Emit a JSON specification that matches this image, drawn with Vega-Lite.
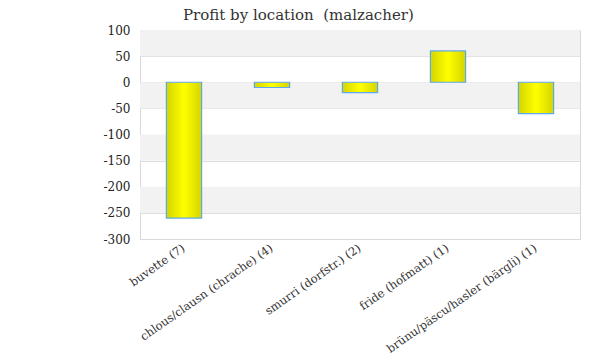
{
  "$schema": "https://vega.github.io/schema/vega-lite/v6.json",
  "autosize": {"type": "none"},
  "padding": {"left": 140, "top": 30, "right": 20, "bottom": 121},
  "width": 440,
  "height": 209,
  "title": {"text": "Profit by location\u00a0 (malzacher)", "font": "DejaVu Serif", "fontSize": 15, "fontWeight": "normal", "color": "#333", "anchor": "start", "frame": "group", "dx": 43, "offset": 1},
  "config": {"view": {"stroke": "#d9d9d9"}},
  "datasets": {
    "bands": [{"lo": 50, "hi": 100}, {"lo": -50, "hi": 0}, {"lo": -150, "hi": -100}, {"lo": -250, "hi": -200}],
    "profit": [
      {"location": "buvette (7)", "profit": -260},
      {"location": "chlous/clausn (chrache) (4)", "profit": -10},
      {"location": "smurri (dorfstr.) (2)", "profit": -20},
      {"location": "fride (hofmatt) (1)", "profit": 60},
      {"location": "brünu/päscu/hasler (bärgli) (1)", "profit": -60}
    ]
  },
  "layer": [
    {
      "data": {"name": "bands"},
      "mark": {"type": "rect", "fill": "#f2f2f2"},
      "encoding": {
        "y": {"field": "lo", "type": "quantitative", "title": null, "scale": {"domain": [-300, 100], "nice": false},
          "axis": {"values": [100, 50, 0, -50, -100, -150, -200, -250, -300], "labelOverlap": false, "labelExpr": "replace(datum.label, '−', '-')", "labelFont": "DejaVu Serif", "labelFontSize": 12, "labelColor": "#222", "ticks": false, "labelPadding": 10, "gridColor": "#dedede", "domainColor": "#d9d9d9"}},
        "y2": {"field": "hi"}
      }
    },
    {
      "data": {"name": "profit"},
      "mark": {"type": "bar", "stroke": "#5fa8f0", "strokeWidth": 1.2,
        "fill": {"gradient": "linear", "x1": 0, "x2": 1, "y1": 0, "y2": 0, "stops": [{"offset": 0, "color": "#d4d400"}, {"offset": 0.5, "color": "#ffff00"}, {"offset": 1, "color": "#d4d400"}]}},
      "encoding": {
        "x": {"field": "location", "type": "nominal", "sort": null, "title": null,
          "scale": {"paddingInner": 0.6, "paddingOuter": 0.3},
          "axis": {"labelAngle": -35, "labelAlign": "right", "labelBaseline": "middle", "labelFont": "DejaVu Serif", "labelFontSize": 11.5, "labelColor": "#333", "ticks": false, "domainColor": "#d9d9d9", "labelPadding": 8}},
        "y": {"field": "profit", "type": "quantitative", "title": null,
          "scale": {"domain": [-300, 100], "nice": false},
          "axis": {"values": [100, 50, 0, -50, -100, -150, -200, -250, -300], "labelOverlap": false, "labelExpr": "replace(datum.label, '−', '-')", "labelFont": "DejaVu Serif", "labelFontSize": 12, "labelColor": "#222", "ticks": false, "labelPadding": 10, "gridColor": "#dedede", "domainColor": "#d9d9d9"}},
        "y2": {"datum": 0}
      }
    }
  ]
}
